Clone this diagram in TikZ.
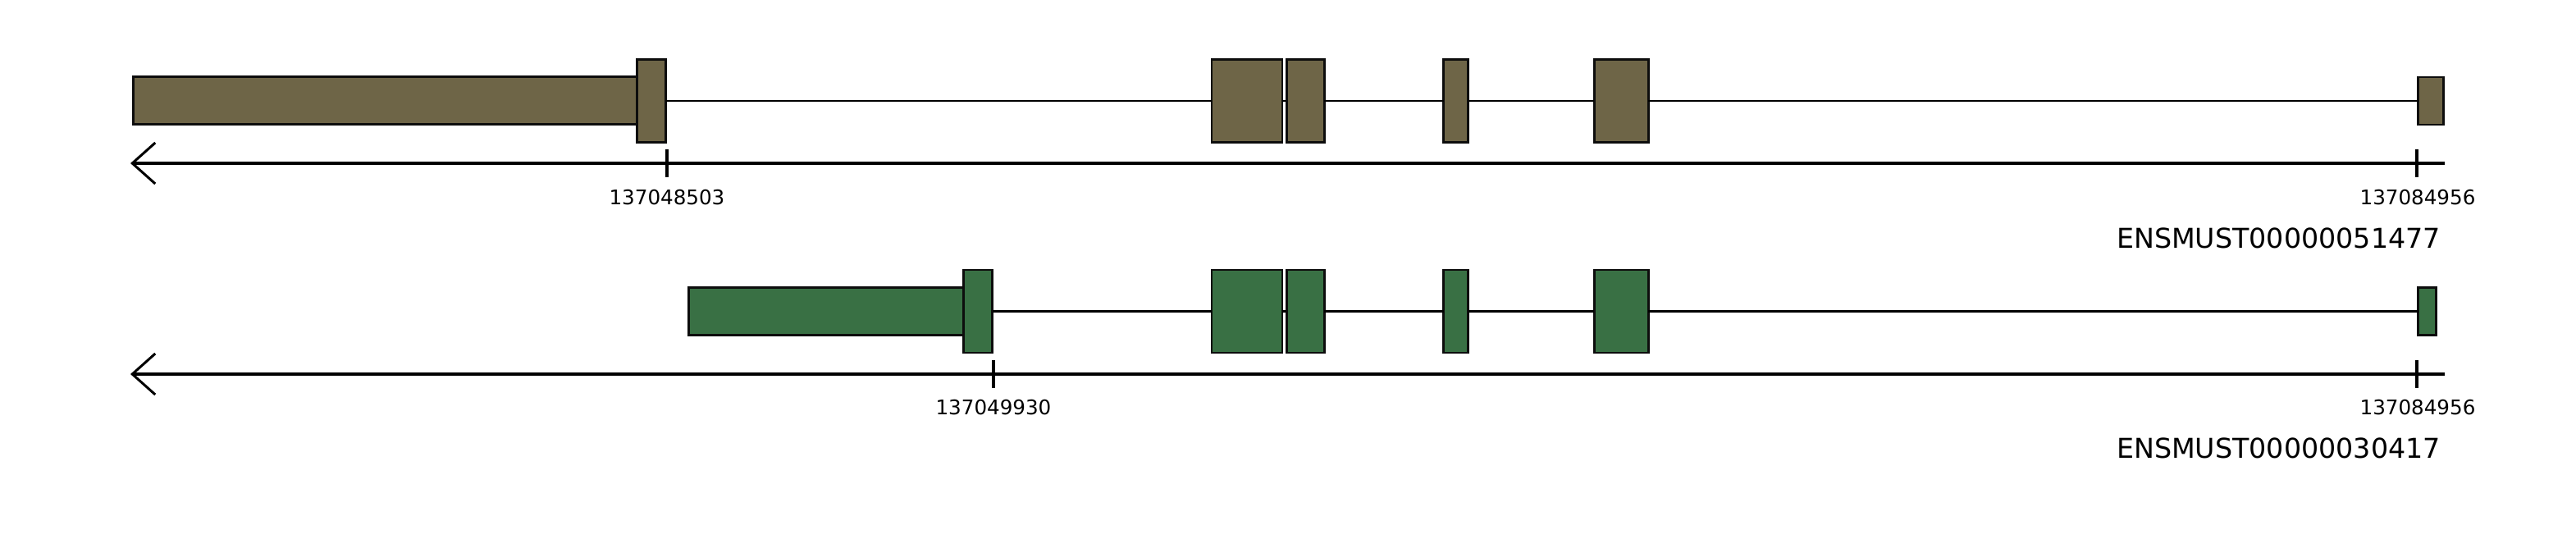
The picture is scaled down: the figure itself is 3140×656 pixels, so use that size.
\documentclass[tikz,border=0pt]{standalone}
\usepackage{fontspec}
\setmainfont{DejaVu Sans}
\usetikzlibrary{arrows.meta}
\definecolor{exonbrown}{RGB}{110,101,71}
\definecolor{exongreen}{RGB}{57,112,68}
\tikzset{
  exonbox/.style={draw=black!95, line width=2.8pt, rectangle, inner sep=0pt, outer sep=0pt},
  ex1/.style={exonbox, fill=exonbrown},
  ex2/.style={exonbox, fill=exongreen},
  tall/.style={minimum height=101pt},
  short/.style={minimum height=58pt},
  intron/.style={line width=2.8pt, black},
  axisline/.style={line width=3.4pt, black, -{Straight Barb[length=28pt, width=50pt, line width=3pt]}},
  tickmark/.style={line width=4pt, black},
  ticklabel/.style={font=\fontsize{24.6}{28}\selectfont, anchor=base, inner sep=0pt},
  txlabel/.style={font=\fontsize{33.3}{38}\selectfont, anchor=base east, inner sep=0pt}
}
\begin{document}
\begin{tikzpicture}[x=1pt,y=-1pt]
\useasboundingbox (0,0) rectangle (3140,656);
% ---------- row 1 ----------
\node[ex1, short, minimum width=614pt] (a1) at (469.4,122.5) {};
\node[ex1, tall, minimum width=35pt] (a2) at (794,123) {};
\node[ex1, tall, minimum width=86pt] (a3) at (1520,123) {};
\node[ex1, tall, minimum width=46pt] (a4) at (1591.3,123) {};
\node[ex1, tall, minimum width=30pt] (a5) at (1774.5,123) {};
\node[ex1, tall, minimum width=66pt] (a6) at (1976.3,123) {};
\node[ex1, short, minimum width=31pt] (a7) at (2963,123) {};
\draw[intron] (a2.east) -- (a3.west);
\draw[intron] (a3.east) -- (a4.west);
\draw[intron] (a4.east) -- (a5.west);
\draw[intron] (a5.east) -- (a6.west);
\draw[intron] (a6.east) -- (a7.west);
\coordinate (ax1r) at (2980,199);
\coordinate (ax1l) at (159,199);
\draw[axisline] (ax1r) -- (ax1l);
\coordinate (t1a) at (813,182);
\coordinate (t1b) at (813,216);
\draw[tickmark] (t1a) -- (t1b);
\coordinate (t1c) at (2946,182);
\coordinate (t1d) at (2946,216);
\draw[tickmark] (t1c) -- (t1d);
\node[ticklabel] (l1a) at (813,249) {137048503};
\node[ticklabel] (l1b) at (2947,249) {137084956};
\node[txlabel] (n1) at (2975,302) {ENSMUST00000051477};
% ---------- row 2 ----------
\node[ex2, short, minimum width=335pt] (b1) at (1006.9,379.5) {};
\node[ex2, tall, minimum width=35pt] (b2) at (1192,379.5) {};
\node[ex2, tall, minimum width=86pt] (b3) at (1520,379.5) {};
\node[ex2, tall, minimum width=46pt] (b4) at (1591.3,379.5) {};
\node[ex2, tall, minimum width=30pt] (b5) at (1774.5,379.5) {};
\node[ex2, tall, minimum width=66pt] (b6) at (1976.3,379.5) {};
\node[ex2, short, minimum width=22pt] (b7) at (2958.5,379.5) {};
\draw[intron] (b2.east) -- (b3.west);
\draw[intron] (b3.east) -- (b4.west);
\draw[intron] (b4.east) -- (b5.west);
\draw[intron] (b5.east) -- (b6.west);
\draw[intron] (b6.east) -- (b7.west);
\coordinate (ax2r) at (2980,456);
\coordinate (ax2l) at (159,456);
\draw[axisline] (ax2r) -- (ax2l);
\coordinate (t2a) at (1211,439);
\coordinate (t2b) at (1211,473);
\draw[tickmark] (t2a) -- (t2b);
\coordinate (t2c) at (2946,439);
\coordinate (t2d) at (2946,473);
\draw[tickmark] (t2c) -- (t2d);
\node[ticklabel] (l2a) at (1211,505.5) {137049930};
\node[ticklabel] (l2b) at (2947,505.5) {137084956};
\node[txlabel] (n2) at (2975,558) {ENSMUST00000030417};
\end{tikzpicture}
\end{document}
